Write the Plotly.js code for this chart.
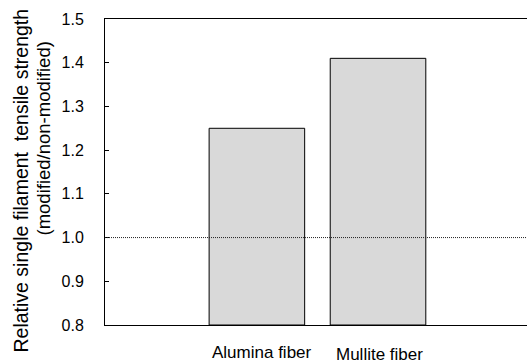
<!DOCTYPE html>
<html>
<head>
<meta charset="utf-8">
<script src="https://cdn.plot.ly/plotly-3.0.1.min.js"></script>
<style>html,body{margin:0;padding:0;background:#fff;}#chart{width:527px;height:364px;}</style>
</head>
<body>
<div id="chart"></div>
<script>
const categories = ["Alumina fiber", "Mullite fiber"];
const values = [1.25, 1.41];
const referenceLevel = 1.0;
const yTickVals = [0.8, 0.9, 1.0, 1.1, 1.2, 1.3, 1.4, 1.5];
const yTickText = ["0.8", "0.9", "1.0", "1.1", "1.2", "1.3", "1.4", "1.5"];
const yTitleLines = ["Relative single filament\u00a0 tensile strength", "(modified/non-modified)"];

const FONT = "Liberation Sans, Arial, sans-serif";
const Y0 = 0.8;

const trace = {
  type: "bar",
  x: categories,
  y: values.map(v => v - Y0),
  base: Y0,
  width: 0.789,
  marker: { color: "#d9d9d9", line: { color: "#000", width: 1 } },
  hoverinfo: "none"
};

const labelShifts = [[5, -27], [1, -29]];
const annotations = categories.map((c, i) => ({
  text: c, x: c, xref: "x", y: 0, yref: "paper",
  xanchor: "center", yanchor: "middle",
  xshift: labelShifts[i][0], yshift: labelShifts[i][1],
  showarrow: false, font: { family: FONT, size: 17, color: "#000" }
}));
annotations.push({
  text: yTitleLines[0], textangle: -90, xref: "paper", yref: "paper",
  x: 0, y: (325 - 180.5) / 306, xshift: -85, xanchor: "center", yanchor: "middle",
  showarrow: false, font: { family: FONT, size: 19.5, color: "#000" }
});
annotations.push({
  text: yTitleLines[1], textangle: -90, xref: "paper", yref: "paper",
  x: 0, y: (325 - 138.5) / 306, xshift: -62, xanchor: "center", yanchor: "middle",
  showarrow: false, font: { family: FONT, size: 18.5, color: "#000" }
});

const layout = {
  width: 527, height: 364,
  margin: { l: 105, r: 0, t: 19, b: 39 },
  paper_bgcolor: "#fff", plot_bgcolor: "#fff",
  showlegend: false,
  font: { family: FONT, size: 16, color: "#000" },
  xaxis: {
    type: "category",
    range: [-1.254, 2.230],
    showticklabels: false, ticks: "",
    showgrid: false, zeroline: false,
    showline: true, linecolor: "#000", linewidth: 1, mirror: true,
    fixedrange: true
  },
  yaxis: {
    range: [0.8, 1.5],
    tickvals: yTickVals, ticktext: yTickText,
    ticks: "inside", ticklen: 4, tickcolor: "#000", tickwidth: 1,
    ticklabelstandoff: 17,
    tickfont: { family: FONT, size: 16, color: "#000" },
    showgrid: false, zeroline: false,
    showline: true, linecolor: "#000", linewidth: 1,
    fixedrange: true
  },
  shapes: [{
    type: "line", xref: "paper", yref: "y",
    x0: 0, x1: 1, y0: referenceLevel, y1: referenceLevel,
    line: { color: "#222", width: 1, dash: "1px,1px" }
  }],
  annotations: annotations
};

Plotly.newPlot("chart", [trace], layout, { displayModeBar: false, staticPlot: true });
</script>
</body>
</html>
